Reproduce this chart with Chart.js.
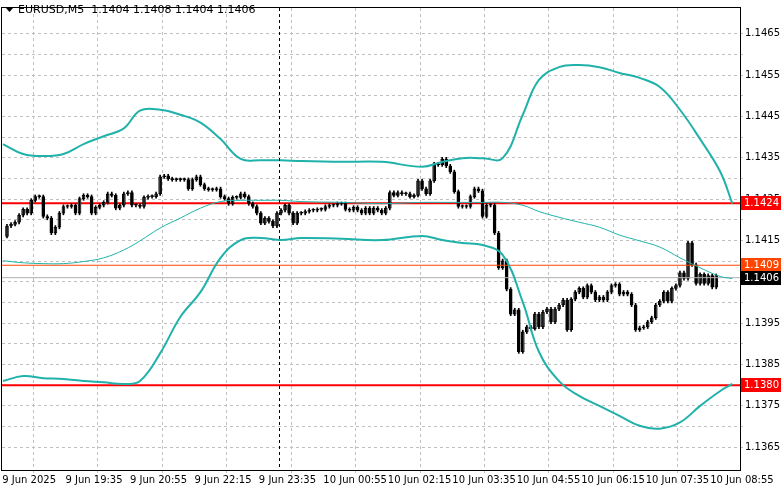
<!DOCTYPE html>
<html><head><meta charset="utf-8">
<script src="https://cdn.jsdelivr.net/npm/chart.js@4/dist/chart.umd.min.js"></script>
<style>html,body{margin:0;padding:0;background:#fff}#w{width:781px;height:489px}</style>
</head><body><div id="w"><canvas id="c"></canvas></div>
<script>
const timeLabels=["9 Jun 2025","9 Jun 19:35","9 Jun 20:55","9 Jun 22:15","9 Jun 23:35","10 Jun 00:55","10 Jun 02:15","10 Jun 03:35","10 Jun 04:55","10 Jun 06:15","10 Jun 07:35","10 Jun 08:55"];
const timeTickIdx=[0,16,32,48,64,80,96,112,128,144,160,176];
const closes=[
1.14185,1.14189,1.14194,1.14211,1.14225,1.14216,1.14247,1.14256,1.14256,1.14208,
1.14204,1.14168,1.14182,1.14216,1.14232,1.14232,1.14235,1.14216,1.14251,1.14259,
1.14256,1.14216,1.14230,1.14235,1.14242,1.14263,1.14259,1.14228,1.14235,1.14263,
1.14266,1.14235,1.14235,1.14232,1.14254,1.14256,1.14256,1.14263,1.14304,1.14306,
1.14299,1.14297,1.14297,1.14297,1.14297,1.14275,1.14297,1.14304,1.14285,1.14275,
1.14273,1.14273,1.14275,1.14256,1.14251,1.14239,1.14254,1.14254,1.14263,1.14256,
1.14239,1.14232,1.14216,1.14192,
1.14204,1.14196,1.14185,1.14216,1.14223,1.14235,1.14216,1.14192,1.14216,1.14216,
1.14220,1.14223,1.14223,1.14225,1.14225,1.14232,1.14235,1.14235,1.14239,1.14239,
1.14225,1.14223,1.14230,1.14223,1.14216,1.14228,1.14216,1.14228,1.14223,1.14216,
1.14228,1.14266,1.14259,1.14266,1.14263,1.14263,1.14256,1.14259,1.14294,1.14275,
1.14263,1.14294,1.14335,1.14333,1.14347,1.14330,1.14316,1.14268,1.14232,1.14232,
1.14232,1.14256,1.14275,1.14270,1.14208,1.14235,1.14235,1.14168,
1.14084,1.14101,1.14032,1.13972,1.13982,1.13881,1.13929,1.13941,1.13937,1.13972,
1.13941,1.13977,1.13984,1.13953,1.13984,1.13994,1.14006,1.13934,1.14008,1.14025,
1.14034,1.14013,1.14041,1.14025,1.14006,1.14013,1.14006,1.14025,1.14041,1.14044,
1.14020,1.14025,1.14020,1.13994,1.13934,1.13939,1.13941,1.13953,1.13963,1.13994,
1.14003,1.14025,1.14003,1.14034,1.14041,1.14072,1.14058,1.14144,1.14091,1.14046,
1.14068,1.14046,1.14065,1.14037,1.14065];
const firstOpen=1.14160;
const bandIdx=[-1,4,9,14,19,24,29,33,38,43,48,53,58,63,68,73,83,93,103,108,113,118,123,128,132,137,142,147,152,157,162,167,172,177,180];
const upperBand=[1.14383,1.14359,1.14354,1.14359,1.14383,1.14402,1.14421,1.14464,1.14466,1.14454,1.14435,1.14395,1.14347,1.14344,1.14344,1.14342,1.14340,1.14340,1.14328,1.14340,1.14349,1.14349,1.14349,1.14454,1.14538,1.14569,1.14574,1.14569,1.14555,1.14543,1.14521,1.14466,1.14395,1.14316,1.14239];
const lowerBand=[1.13810,1.13822,1.13817,1.13815,1.13810,1.13807,1.13803,1.13810,1.13877,1.13965,1.14025,1.14108,1.14151,1.14156,1.14151,1.14156,1.14154,1.14151,1.14161,1.14151,1.14144,1.14139,1.14115,1.14001,1.13881,1.13810,1.13774,1.13750,1.13726,1.13702,1.13695,1.13710,1.13750,1.13786,1.13803];
const middleBand=[1.14101,1.14096,1.14094,1.14094,1.14099,1.14108,1.14127,1.14149,1.14180,1.14204,1.14228,1.14244,1.14247,1.14247,1.14247,1.14244,1.14242,1.14239,1.14242,1.14242,1.14242,1.14242,1.14242,1.14235,1.14220,1.14206,1.14194,1.14182,1.14163,1.14149,1.14134,1.14108,1.14084,1.14063,1.14058];
const redLevels=[1.1424,1.1380];
const bidLevel=1.1409, lastLevel=1.1406;
const yTickStart=1.1365, yTickEnd=1.1465;
const headerText="EURUSD,M5  1.1404 1.1408 1.1404 1.1406";

const XMIN=-1.24, XMAX=181.9;
const opens=closes.map((c,i)=>i===0?firstOpen:closes[i-1]);
const bodies=closes.map((c,i)=>({x:i,y:[opens[i],c]}));
const wicks=closes.map((c,i)=>({x:i,y:[Math.min(opens[i],c)-0.00004,Math.max(opens[i],c)+0.00004]}));
const up=closes.map((c,i)=>c>=opens[i]);
const band=(arr)=>bandIdx.map((x,i)=>({x,y:arr[i]}));
const hline=(v)=>[{x:XMIN,y:v},{x:XMAX,y:v}];
const tickPos=timeTickIdx.map(v=>Math.max(XMIN+0.05,v-1.5));

const deco={id:'deco',
 afterDatasetsDraw(ch){
  const {ctx,chartArea:a,scales:{x,y}}=ch;
  ctx.save();
  ctx.strokeStyle='#000';ctx.setLineDash([3,3]);ctx.lineWidth=1;
  ctx.beginPath();ctx.moveTo(279.5,a.top);ctx.lineTo(279.5,a.bottom);ctx.stroke();
  ctx.setLineDash([]);
  ctx.strokeStyle='#000';ctx.strokeRect(a.left-0.5,a.top-0.5,a.right-a.left+1,a.bottom-a.top+1);
  ctx.fillStyle='#000';ctx.font='11px "DejaVu Sans", sans-serif';ctx.textBaseline='middle';
  ctx.beginPath();ctx.moveTo(6,8);ctx.lineTo(13,8);ctx.lineTo(9.5,12);ctx.closePath();ctx.fill();
  ctx.fillText(headerText,18,10);
  const lab=(v,bg,fg)=>{const py=Math.round(y.getPixelForValue(v));ctx.fillStyle=bg;ctx.fillRect(a.right+1,py-7,40,14);ctx.fillStyle=fg;ctx.font='10px "DejaVu Sans", sans-serif';ctx.textAlign='left';ctx.fillText(v.toFixed(4),a.right+4,py+0.5);};
  redLevels.forEach(v=>lab(v,'#ff0000','#fff'));
  lab(bidLevel,'#ff4500','#fff');
  lab(lastLevel,'#000','#fff');
  ctx.restore();
 }};

new Chart(document.getElementById('c'),{
 data:{datasets:[
  {type:'line',data:band(upperBand),borderColor:'#20b2aa',borderWidth:2,pointRadius:0,tension:0.4},
  {type:'line',data:band(lowerBand),borderColor:'#20b2aa',borderWidth:2,pointRadius:0,tension:0.4},
  {type:'line',data:band(middleBand),borderColor:'#20b2aa',borderWidth:1,pointRadius:0,tension:0.4},
  {type:'line',data:hline(lastLevel),borderColor:'#b0b0b0',borderWidth:1,pointRadius:0},
  {type:'line',data:hline(bidLevel),borderColor:'#ff4500',borderWidth:1,pointRadius:0},
  {type:'bar',data:wicks,backgroundColor:'#000',barThickness:1,grouped:false},
  {type:'bar',data:bodies,backgroundColor:up.map(u=>u?'#fff':'#000'),borderColor:'#000',borderWidth:1,borderSkipped:false,barThickness:3,minBarLength:1,grouped:false},
  ...redLevels.map(v=>({type:'line',data:hline(v),borderColor:'#ff0000',borderWidth:2,pointRadius:0}))
 ]},
 options:{responsive:true,maintainAspectRatio:false,animation:false,
  layout:{padding:{top:2,left:2,right:0,bottom:0}},
  plugins:{legend:{display:false},tooltip:{enabled:false}},
  scales:{
   x:{type:'linear',min:XMIN,max:XMAX,offset:false,
    afterBuildTicks:s=>{s.ticks=tickPos.map(v=>({value:v}));},
    afterFit:s=>{s.height=19;},
    grid:{color:'#c0c0c0',drawTicks:true,tickLength:3},border:{dash:[3,3],display:false},
    ticks:{autoSkip:false,maxRotation:0,align:'start',padding:1,color:'#000',font:{size:10,family:'"DejaVu Sans", sans-serif'},callback:(v)=>timeLabels[tickPos.indexOf(v)]||''}},
   y:{position:'right',min:1.13595,max:1.14712,
    afterBuildTicks:s=>{const t=[];for(let k=0;k<=20;k++)t.push({value:+(yTickStart+k*0.0005).toFixed(5)});s.ticks=t;},
    afterFit:s=>{s.width=41;},
    grid:{color:'#c0c0c0',tickLength:3},border:{dash:[3,3],display:false},
    ticks:{autoSkip:false,padding:2,color:'#000',font:{size:10,family:'"DejaVu Sans", sans-serif'},callback:(v)=>{const k=Math.round((v-yTickStart)/0.0005);return k%2===0?v.toFixed(4):'';}}}
  }}
 ,plugins:[deco]});
</script></body></html>
